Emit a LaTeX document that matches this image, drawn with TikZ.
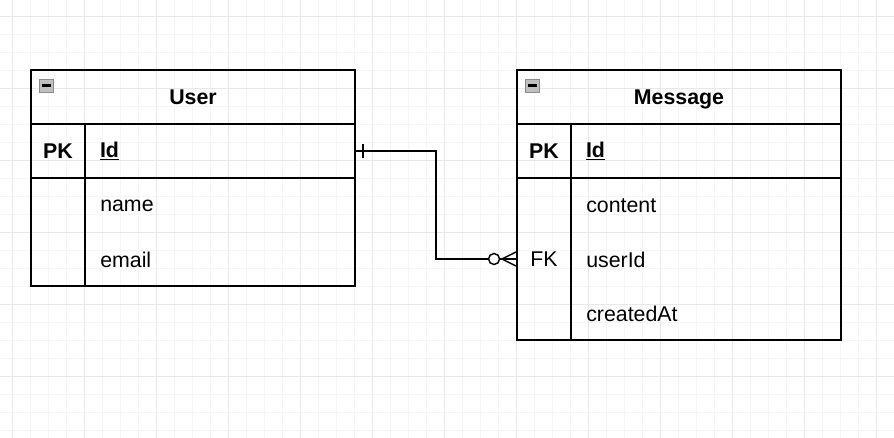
\documentclass[tikz,border=0pt]{standalone}
\usepackage{fontspec}
\setmainfont{Liberation Sans}
\usetikzlibrary{calc}
\usetikzlibrary{positioning}

\tikzset{
  gridminor/.style={draw=black!4, line width=0.5pt},
  gridmajor/.style={draw=black!9, line width=0.5pt},
  tbl/.style={draw, line width=1.4pt, inner sep=0pt, font=\fontsize{16}{19}\selectfont},
  headcell/.style={tbl, minimum width=243pt, minimum height=40.5pt, text depth=0pt, font=\fontsize{16}{19}\selectfont\bfseries},
  keycell/.style={tbl, minimum width=40.5pt, minimum height=#1},
  fieldcell/.style={tbl, minimum width=202.5pt, minimum height=#1, text width=180pt, inner xsep=11.25pt, align=left},
  field/.style={anchor=west, inner sep=0pt, font=\fontsize{16}{19}\selectfont},
  link/.style={line width=1.1pt}
}

\newcommand{\collapsebox}[1]{%
  \draw[draw=black!45, fill=black!25, line width=0.8pt] ([shift={(9,10)}]#1.north west) rectangle ++(14,13);
  \draw[line width=1.8pt] ([shift={(11.5,16.5)}]#1.north west) -- ++(9,0);}

\begin{document}
\begin{tikzpicture}[x=0.75pt, y=-0.75pt]
  \useasboundingbox (0,0) rectangle (894,438);
  \fill[white] (0,0) rectangle (894,438);
  % background grid
  \foreach \i in {0,...,49} \draw[gridminor] ({12.5+18*\i},0) -- ++(0,438);
  \foreach \i in {0,...,24} \draw[gridminor] (0,{16+18*\i}) -- ++(894,0);
  \foreach \i in {0,...,12} \draw[gridmajor] ({12.5+72*\i},0) -- ++(0,438);
  \foreach \i in {0,...,6} \draw[gridmajor] (0,{16+72*\i}) -- ++(894,0);

  % User
  \path (193,97)  node[headcell] (userHead) {User}
        (58,151)  node[keycell=40.5pt, font=\fontsize{16}{19}\selectfont\bfseries] (userPK) {PK}
        (220,151) node[fieldcell=40.5pt, font=\fontsize{16}{19}\selectfont\bfseries] (userId) {\underline{Id}}
        (58,232)  node[keycell=81pt] (userKeys) {}
        (220,232) node[fieldcell=81pt] (userFields) {};
  \node[field] (userName)  at (100,206) {name};
  \node[field] (userEmail) at (100,260) {email};
  \collapsebox{userHead}

  % Message
  \path (679,97)  node[headcell] (msgHead) {Message}
        (544,151) node[keycell=40.5pt, font=\fontsize{16}{19}\selectfont\bfseries] (msgPK) {PK}
        (706,151) node[fieldcell=40.5pt, font=\fontsize{16}{19}\selectfont\bfseries] (msgId) {\underline{Id}}
        (544,259) node[keycell=121.5pt] (msgKeys) {FK}
        (706,259) node[fieldcell=121.5pt] (msgFields) {};
  \node[field] (msgContent) at (586,206) {content};
  \node[field] (msgUser)    at (586,260) {userId};
  \node[field] (msgDate)    at (586,314) {createdAt};
  \collapsebox{msgHead}

  % relation: one User -- many Messages
  \draw[link] (userId.east) -| ($(userId.east)!0.5!(msgKeys.west)$) |- (msgKeys.west);
  \draw[link] ([shift={(7,-7)}]userId.east) -- ++(0,14);
  \draw[link, fill=white] ([shift={(-22,0)}]msgKeys.west) circle[radius=5.5];
  \draw[link] ([shift={(-14,0)}]msgKeys.west) -- ([shift={(0,-7)}]msgKeys.west)
              ([shift={(-14,0)}]msgKeys.west) -- ([shift={(0,7)}]msgKeys.west);
\end{tikzpicture}
\end{document}
